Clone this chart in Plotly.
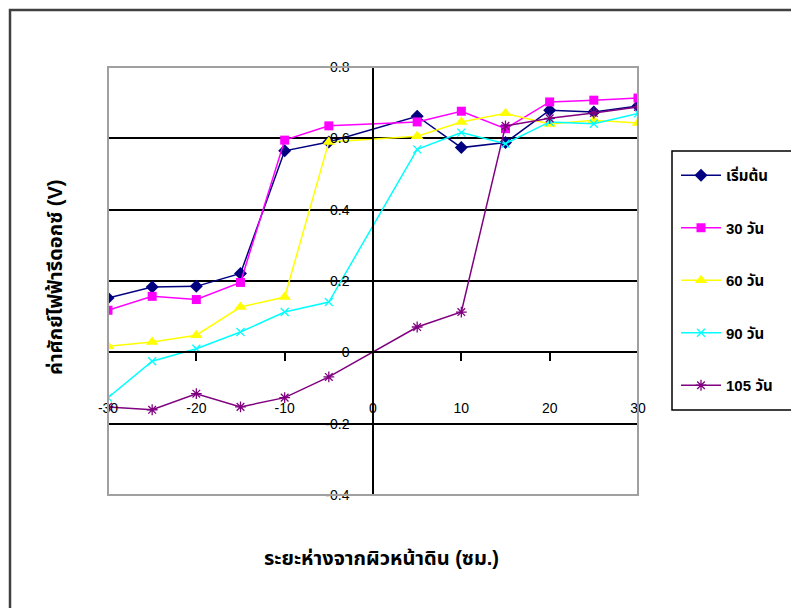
import plotly.graph_objects as go

# distance from soil surface (cm)
distance = [-30, -25, -20, -15, -10, -5, 5, 10, 15, 20, 25, 30]

# redox potential (V) for each sampling time
start_v = [0.152, 0.183, 0.185, 0.221, 0.565, 0.590, 0.662, 0.574, 0.588, 0.679, 0.674, 0.691]
day30_v = [0.118, 0.157, 0.148, 0.196, 0.595, 0.635, 0.646, 0.676, 0.627, 0.702, 0.707, 0.713]
day60_v = [0.017, 0.029, 0.048, 0.127, 0.155, 0.590, 0.606, 0.646, 0.670, 0.640, 0.651, 0.643]
day90_v = [-0.127, -0.025, 0.010, 0.057, 0.113, 0.141, 0.569, 0.616, 0.585, 0.646, 0.641, 0.670]
day105_v = [-0.153, -0.161, -0.116, -0.153, -0.127, -0.069, 0.071, 0.113, 0.635, 0.656, 0.671, 0.688]

series_names = ["เริ่มต้น", "30 วัน", "60 วัน", "90 วัน", "105 วัน"]

x_tick_vals = [-30, -20, -10, 0, 10, 20, 30]
x_tick_text = ["-30", "-20", "-10", "0", "10", "20", "30"]
y_tick_vals = [-0.4, -0.2, 0, 0.2, 0.4, 0.6, 0.8]
y_tick_text = ["-0.4", "-0.2", "0", "0.2", "0.4", "0.6", "0.8"]

x_title = "ระยะห่างจากผิวหน้าดิน (ซม.)"
y_title = "ค่าศักย์ไฟฟ้ารีดอกซ์ (V)"

W, H = 791, 608
ML, MR, MT, MB = 108, 153, 67, 113
PW, PH = W - ML - MR, H - MT - MB


def px(x):
    return (x - ML) / PW


def py(y):
    return (H - MB - y) / PH


FONT = "Liberation Sans, Arial, Noto Sans Thai, Tahoma, sans-serif"

styles = [
    dict(color="#000080", symbol="diamond", size=10, lw=0),
    dict(color="#FF00FF", symbol="square", size=9, lw=0),
    dict(color="#FFFF00", symbol="triangle-up", size=11, lw=0),
    dict(color="#00FFFF", symbol="x-thin-open", size=8, lw=1.3),
    dict(color="#800080", symbol="asterisk-open", size=9, lw=1.3),
]
all_values = [start_v, day30_v, day60_v, day90_v, day105_v]

fig = go.Figure()
for name, vals, st in zip(series_names, all_values, styles):
    fig.add_trace(go.Scatter(
        x=distance, y=vals, name=name, mode="lines+markers",
        legendgroup=name,
        line=dict(color=st["color"], width=1.5),
        marker=dict(symbol=st["symbol"], size=st["size"], color=st["color"],
                    line=dict(color=st["color"], width=st["lw"])),
    ))

fig.update_layout(
    width=W, height=H,
    margin=dict(l=ML, r=MR, t=MT, b=MB),
    paper_bgcolor="white", plot_bgcolor="white",
    font=dict(family=FONT, size=12, color="black"),
    showlegend=True,
    legend=dict(
        x=px(676), y=py(159), xanchor="left", yanchor="top",
        bgcolor="rgba(0,0,0,0)", borderwidth=0,
        tracegroupgap=30, itemwidth=40,
        font=dict(family=FONT, size=15, color="black", weight="bold"),
    ),
    xaxis=dict(
        range=[-30, 30], anchor="free", position=0.4 / 1.2,
        showline=True, linecolor="black", linewidth=1.5,
        ticks="outside", ticklen=8, tickcolor="black", tickwidth=1.5,
        tickvals=x_tick_vals, ticktext=x_tick_text,
        ticklabelstandoff=35,
        showgrid=False, zeroline=False,
        tickfont=dict(size=14),
    ),
    yaxis=dict(
        range=[-0.4, 0.8], anchor="free", position=0.5,
        showline=True, linecolor="black", linewidth=1.5,
        ticks="outside", ticklen=8, tickcolor="black", tickwidth=1.5,
        tickvals=y_tick_vals, ticktext=y_tick_text,
        ticklabelstandoff=12,
        showgrid=True, gridcolor="black", gridwidth=1.5,
        zeroline=False,
        tickfont=dict(size=14),
    ),
    shapes=[
        # plot area frame
        dict(type="rect", xref="x domain", yref="y domain", x0=0, x1=1, y0=0, y1=1,
             line=dict(color="#a0a0a0", width=2), layer="above"),
        # legend frame
        dict(type="rect", xref="paper", yref="paper",
             x0=px(672), x1=px(810), y0=py(410), y1=py(151),
             line=dict(color="black", width=1.5)),
        # chart frame
        dict(type="rect", xref="paper", yref="paper",
             x0=px(10), x1=px(820), y0=py(630), y1=py(10),
             line=dict(color="#404040", width=2.5)),
    ],
    annotations=[
        dict(text=x_title, xref="paper", yref="paper", x=px(381), y=py(558),
             showarrow=False, font=dict(size=20, weight="bold"),
             xanchor="center", yanchor="middle"),
        dict(text=y_title, xref="paper", yref="paper", x=px(55), y=py(278),
             showarrow=False, textangle=-90, font=dict(size=20, weight="bold"),
             xanchor="center", yanchor="middle"),
    ],
)

fig.write_html("out.html")
